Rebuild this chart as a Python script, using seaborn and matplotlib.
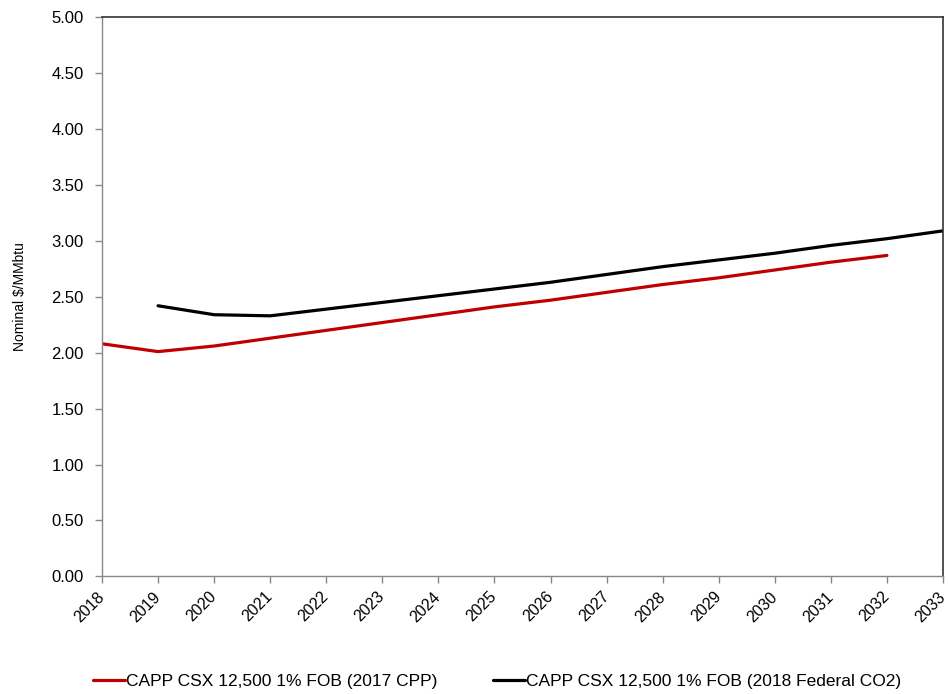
import matplotlib
matplotlib.use("Agg")
import matplotlib.pyplot as plt
import seaborn as sns
import pandas as pd

years = list(range(2018, 2034))
cpp_2017 = [2.08, 2.01, 2.06, 2.13, 2.20, 2.27, 2.34, 2.41, 2.47, 2.54, 2.61, 2.67, 2.74, 2.81, 2.87, None]
fed_co2_2018 = [None, 2.42, 2.34, 2.33, 2.39, 2.45, 2.51, 2.57, 2.63, 2.70, 2.77, 2.83, 2.89, 2.96, 3.02, 3.09]
series_names = ["CAPP CSX 12,500 1% FOB (2017 CPP)", "CAPP CSX 12,500 1% FOB (2018 Federal CO2)"]
y_ticks = [0.0, 0.5, 1.0, 1.5, 2.0, 2.5, 3.0, 3.5, 4.0, 4.5, 5.0]

df = pd.DataFrame({
    "Year": years * 2,
    "Price": cpp_2017 + fed_co2_2018,
    "Series": [series_names[0]] * len(years) + [series_names[1]] * len(years),
}).dropna()
df["Price"] = df["Price"].astype(float)

sns.set_theme(style="white")
plt.rcParams["font.family"] = ["Liberation Sans", "DejaVu Sans"]
plt.rcParams["text.color"] = "black"
plt.rcParams["axes.labelcolor"] = "black"
plt.rcParams["xtick.color"] = "black"
plt.rcParams["ytick.color"] = "black"

fig = plt.figure(figsize=(9.48, 6.94), dpi=100)
ax = fig.add_axes([0.1076, 0.1696, 0.8871, 0.8054])

palette = {series_names[0]: "#C00000", series_names[1]: "#000000"}
sns.lineplot(data=df, x="Year", y="Price", hue="Series", palette=palette,
             linewidth=2.3, ax=ax, legend=True)

ax.set_xlim(2018, 2033)
ax.set_ylim(0, 5)
ax.set_xticks(years)
ax.set_xticklabels([str(y) for y in years], rotation=45, ha="right", va="center",
                   rotation_mode="anchor", fontsize=11.5)
ax.set_yticks(y_ticks)
ax.set_yticklabels([f"{v:.2f}" for v in y_ticks], fontsize=12)
ax.set_xlabel("")
ax.set_ylabel("Nominal $/MMbtu", fontsize=10, labelpad=18)

for side in ["left", "bottom"]:
    ax.spines[side].set_color("#888888")
    ax.spines[side].set_linewidth(1.0)
for side in ["top", "right"]:
    ax.spines[side].set_color("#333333")
    ax.spines[side].set_linewidth(1.2)
ax.tick_params(axis="both", which="major", direction="out", length=5,
               width=1, color="#888888", left=True, bottom=True)
ax.tick_params(axis="x", pad=8)
ax.tick_params(axis="y", pad=8)

handles, labels = ax.get_legend_handles_labels()
ax.get_legend().remove()
fig.legend(handles, labels, loc="lower left", bbox_to_anchor=(0.0817, -0.016),
           ncol=2, frameon=False, fontsize=12.5, handlelength=1.85,
           handletextpad=0.05, columnspacing=3.2)

fig.savefig("out.png", dpi=100, facecolor="white")
